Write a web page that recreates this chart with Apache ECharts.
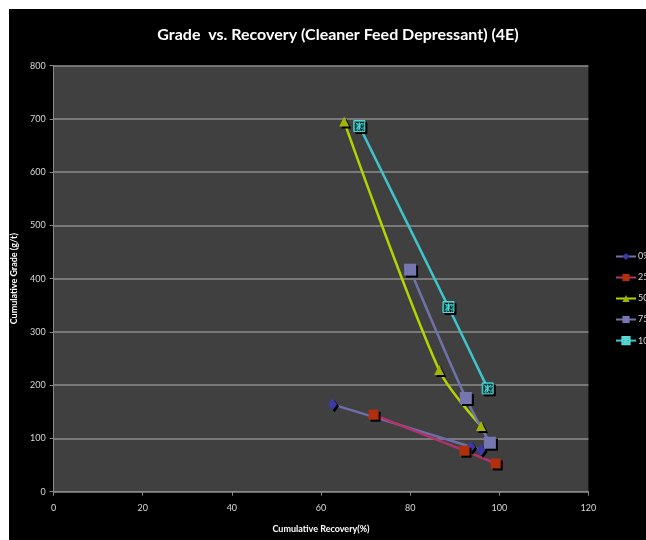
<!DOCTYPE html>
<html><head><meta charset="utf-8">
<script src="https://cdn.jsdelivr.net/npm/echarts@6/dist/echarts.min.js"></script>
<style>html,body{margin:0;padding:0;background:#fff}#c{width:646px;height:540px}</style>
</head><body><div id="c"></div>
<script>
const seriesNames = ['0%', '25%', '50%', '75%', '100%'];
const xTicks = [0, 20, 40, 60, 80, 100, 120];
const yTicks = [0, 100, 200, 300, 400, 500, 600, 700, 800];
const recovery0 = [62.6, 93.6, 95.9];
const grade0 = [164, 84.5, 78.4];
const recovery25 = [71.8, 92.2, 99.2];
const grade25 = [144.6, 77, 53];
const recovery50 = [65.2, 86.5, 95.9];
const grade50 = [695, 228.5, 123.4];
const recovery75 = [80.0, 92.5, 97.9];
const grade75 = [417, 176, 92];
const recovery100 = [68.6, 88.6, 97.4];
const grade100 = [686.7, 346.8, 194];

const F = "'Liberation Sans Narrow', 'Lato', sans-serif";
const zip = (a, b) => a.map((v, i) => [v, b[i]]);
const shadow = { shadowColor: '#000', shadowOffsetX: 2, shadowOffsetY: 2, shadowBlur: 0 };
const xMark = 'path://M0,0L10,0L10,10L0,10Z M2,2L8,8 M8,2L2,8 M5,1.5L5,8.5';

const specs = [
  { x: recovery0, y: grade0, line: '#6e6eaa', fill: '#3b3ba6', border: '#3b3ba6', bw: 0, symbol: 'diamond', size: [9, 12] },
  { x: recovery25, y: grade25, line: '#b4326a', fill: '#b0300e', border: '#b0300e', bw: 0, symbol: 'rect', size: 10 },
  { x: recovery50, y: grade50, line: '#b4d400', fill: '#a2b400', border: '#a2b400', bw: 0, symbol: 'triangle', size: 10 },
  { x: recovery75, y: grade75, line: '#7272aa', fill: '#7676b0', border: '#7676b0', bw: 0, symbol: 'rect', size: 12 },
  { x: recovery100, y: grade100, line: '#3ec6cc', fill: '#139a9a', border: '#5fd6d6', bw: 1, symbol: xMark, size: 11 }
];

const chart = echarts.init(document.getElementById('c'));
chart.setOption({
  backgroundColor: '#fff',
  animation: false,
  graphic: [{ type: 'rect', z: -10, silent: true, shape: { x: 9, y: 9, width: 640, height: 535 }, style: { fill: '#000' } }],
  title: {
    text: 'Grade  vs. Recovery (Cleaner Feed Depressant) (4E)',
    left: 333, top: 22, textAlign: 'center',
    textStyle: { color: '#fff', fontFamily: F, fontWeight: 'bold', fontSize: 16 }
  },
  grid: { left: 53.6, right: 57.6, top: 65.7, bottom: 48.3, show: true, backgroundColor: '#404040', borderWidth: 0 },
  legend: {
    orient: 'vertical', left: 610, top: 247, itemWidth: 20, itemHeight: 9, itemGap: 12,
    textStyle: { color: '#d8d8d8', fontFamily: F, fontSize: 9, padding: [0, 0, 0, -3] },
    data: seriesNames
  },
  xAxis: {
    type: 'value', min: xTicks[0], max: xTicks[xTicks.length - 1], interval: 20,
    name: 'Cumulative Recovery(%)', nameLocation: 'middle', nameGap: 33,
    nameTextStyle: { color: '#fff', fontFamily: F, fontWeight: 'bold', fontSize: 9 },
    axisLine: { show: true, lineStyle: { color: '#8a8a8a', width: 1 } },
    axisTick: { show: true, length: 4, lineStyle: { color: '#8a8a8a' } },
    axisLabel: { color: '#d8d8d8', fontFamily: F, fontSize: 9, margin: 12 },
    splitLine: { show: false }
  },
  yAxis: {
    type: 'value', min: yTicks[0], max: yTicks[yTicks.length - 1], interval: 100,
    name: 'Cumulative Grade (g/t)', nameLocation: 'middle', nameGap: 28,
    nameTextStyle: { color: '#fff', fontFamily: F, fontWeight: 'bold', fontSize: 9 },
    axisLine: { show: true, lineStyle: { color: '#8a8a8a', width: 1 } },
    axisTick: { show: true, length: 4, lineStyle: { color: '#8a8a8a' } },
    axisLabel: { color: '#d8d8d8', fontFamily: F, fontSize: 9, margin: 8 },
    splitLine: { show: true, lineStyle: { color: '#8c8c8c', width: 1.5 } }
  },
  series: specs.map((s, i) => ({
    name: seriesNames[i], type: 'line', smooth: 0.3,
    data: zip(s.x, s.y),
    symbol: s.symbol, symbolSize: s.size,
    lineStyle: { color: s.line, width: 2.5 },
    itemStyle: Object.assign({ color: s.fill, borderColor: s.border, borderWidth: s.bw }, shadow),
    color: s.line
  }))
});
</script></body></html>
